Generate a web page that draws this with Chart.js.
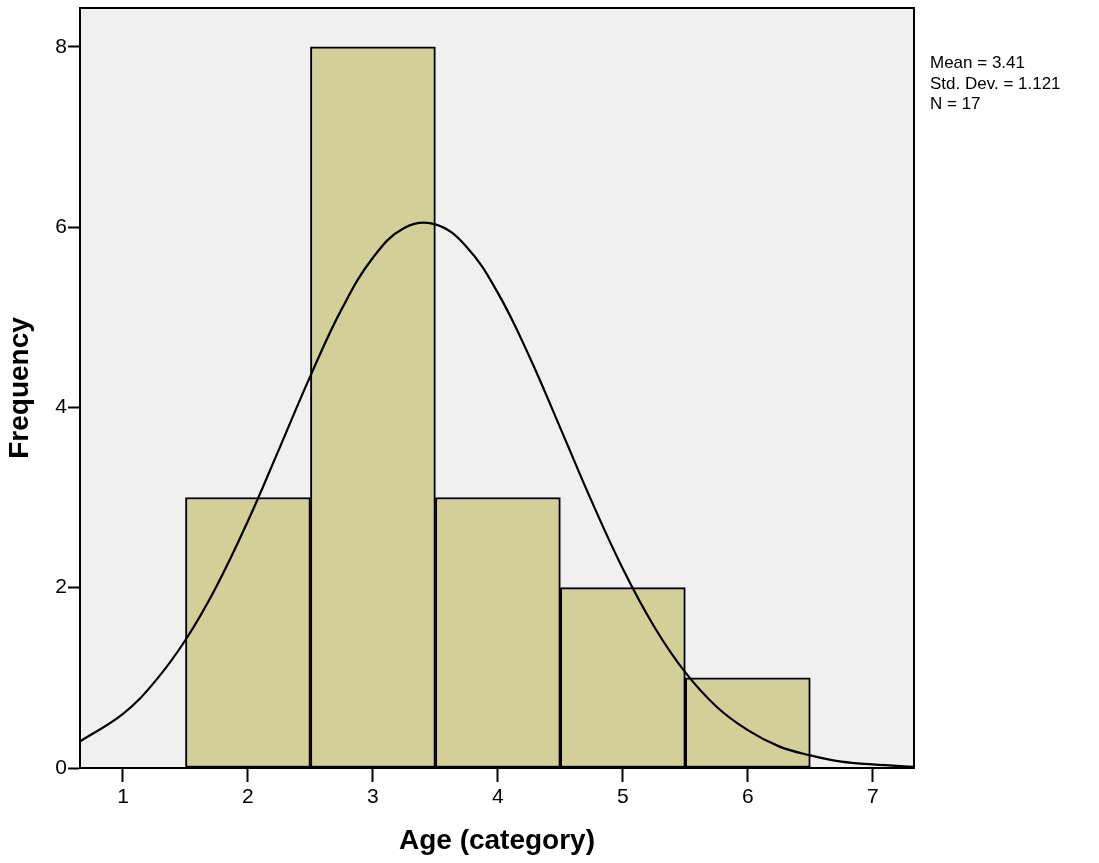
<!DOCTYPE html>
<html>
<head>
<meta charset="utf-8">
<script src="https://cdn.jsdelivr.net/npm/chart.js@4.4.1/dist/chart.umd.min.js"></script>
<style>
  html, body { margin: 0; padding: 0; background: #fff; }
  canvas { display: block; }
</style>
</head>
<body>
<canvas id="histChart" width="1099" height="863"></canvas>
<script>
// ===== Data =====
const binCenters = [2, 3, 4, 5, 6];
const frequencies = [3, 8, 3, 2, 1];

// normal curve
const curveX = [0.65, 1, 1.25, 1.5, 1.75, 2, 2.25, 2.5, 2.75, 3, 3.25, 3.5, 3.75, 4, 4.25, 4.5, 4.75, 5, 5.25, 5.5, 5.75, 6, 6.25, 6.5, 6.75, 7, 7.35];
const curveY = [0.29, 0.6, 0.95, 1.42, 2.02, 2.74, 3.54, 4.35, 5.09, 5.66, 5.99, 6.03, 5.78, 5.27, 4.57, 3.77, 2.96, 2.21, 1.57, 1.06, 0.68, 0.42, 0.24, 0.14, 0.07, 0.04, 0.01];

const xTicks = [1, 2, 3, 4, 5, 6, 7];
const yTicks = [0, 2, 4, 6, 8];

const statsLines = ["Mean = 3.41", "Std. Dev. = 1.121", "N = 17"];

const FONT = "'Liberation Sans', Arial, sans-serif";

// ===== Plugins =====
const plotBackground = {
  id: 'plotBackground',
  beforeDraw(chart) {
    const { ctx, chartArea: a } = chart;
    ctx.save();
    ctx.fillStyle = '#f0f0f0';
    ctx.fillRect(a.left, a.top, a.right - a.left, a.bottom - a.top);
    ctx.restore();
  },
  afterDraw(chart) {
    const { ctx, chartArea: a } = chart;
    ctx.save();
    ctx.strokeStyle = '#000';
    ctx.lineWidth = 2;
    ctx.strokeRect(a.left, a.top, a.right - a.left, a.bottom - a.top);

    // stats box on the right
    ctx.fillStyle = '#000';
    ctx.font = `17px ${FONT}`;
    ctx.textAlign = 'left';
    ctx.textBaseline = 'alphabetic';
    statsLines.forEach((t, i) => ctx.fillText(t, 930, 68 + i * 20.5));
    ctx.restore();
  }
};

// ===== Chart =====
new Chart(document.getElementById('histChart').getContext('2d'), {
  data: {
    datasets: [
      {
        type: 'line',
        data: curveX.map((x, i) => ({ x: x, y: curveY[i] })),
        borderColor: '#000',
        borderWidth: 2.2,
        pointRadius: 0,
        tension: 0.4,
        fill: false,
        order: 1
      },
      {
        type: 'bar',
        data: binCenters.map((x, i) => ({ x: x, y: frequencies[i] })),
        backgroundColor: '#d3cf98',
        borderColor: '#000',
        borderWidth: 2,
        borderSkipped: false,
        barPercentage: 1,
        categoryPercentage: 1,
        order: 2
      }
    ]
  },
  options: {
    responsive: false,
    animation: false,
    layout: { padding: { top: 8, right: 185, left: 0, bottom: 0 } },
    plugins: { legend: { display: false }, tooltip: { enabled: false } },
    scales: {
      x: {
        type: 'linear',
        min: 0.656,
        max: 7.33,
        offset: false,
        afterBuildTicks(scale) { scale.ticks = xTicks.map(v => ({ value: v })); },
        afterFit(scale) { scale.height = 95; scale.paddingLeft = 0; scale.paddingRight = 0; },
        ticks: { color: '#000', font: { family: FONT, size: 21 }, padding: 3, maxRotation: 0 },
        grid: { offset: false, drawOnChartArea: false, drawTicks: true, tickLength: 14, tickWidth: 2, tickColor: '#000' },
        border: { display: true, color: '#000', width: 2 },
        title: {
          display: true,
          text: 'Age (category)',
          color: '#000',
          font: { family: FONT, size: 28, weight: 'bold' },
          padding: { top: 0, bottom: 5 }
        }
      },
      y: {
        type: 'linear',
        min: 0,
        max: 8.43,
        afterBuildTicks(scale) { scale.ticks = yTicks.map(v => ({ value: v })); },
        afterFit(scale) { scale.width = 80; scale.paddingTop = 0; scale.paddingBottom = 0; },
        ticks: { color: '#000', font: { family: FONT, size: 21 }, padding: 1 },
        grid: { drawOnChartArea: false, drawTicks: true, tickLength: 12, tickWidth: 2, tickColor: '#000' },
        border: { display: true, color: '#000', width: 2 },
        title: {
          display: true,
          text: 'Frequency',
          color: '#000',
          font: { family: FONT, size: 28, weight: 'bold' },
          padding: { top: 3, bottom: 0 }
        }
      }
    }
  },
  plugins: [plotBackground]
});
</script>
</body>
</html>
